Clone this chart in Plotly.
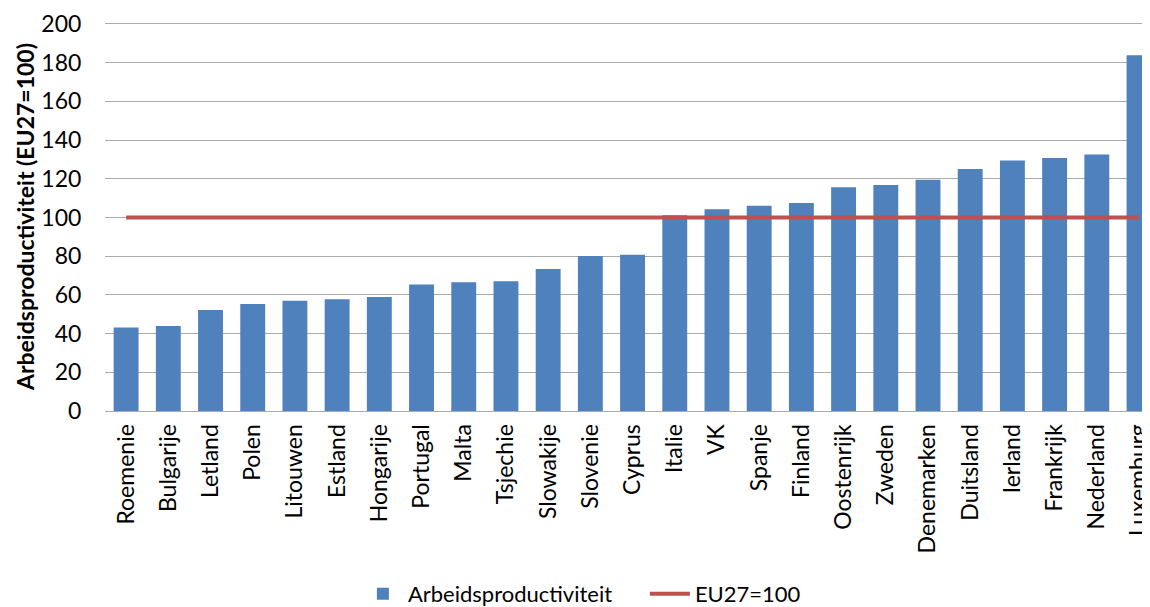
import plotly.graph_objects as go

countries = ["Roemenie", "Bulgarije", "Letland", "Polen", "Litouwen", "Estland", "Hongarije",
             "Portugal", "Malta", "Tsjechie", "Slowakije", "Slovenie", "Cyprus", "Italie", "VK",
             "Spanje", "Finland", "Oostenrijk", "Zweden", "Denemarken", "Duitsland", "Ierland",
             "Frankrijk", "Nederland", "Luxemburg"]
productivity = [43.2, 43.9, 52.2, 55.3, 57.0, 57.7, 58.9, 65.3, 66.5, 67.0, 73.4, 80.1, 80.8,
                101.1, 104.2, 106.1, 107.5, 115.6, 116.8, 119.5, 125.1, 129.5, 130.7, 132.6, 183.8]
eu_level = [100] * len(countries)
y_ticks = [0, 20, 40, 60, 80, 100, 120, 140, 160, 180, 200]

FONT = "Lato"

fig = go.Figure()
fig.add_trace(go.Bar(
    x=countries, y=productivity, name="Arbeidsproductiviteit",
    marker=dict(color="#4F81BD", line=dict(width=0)),
))
fig.add_trace(go.Scatter(
    x=countries, y=eu_level, name="EU27=100", mode="lines",
    line=dict(color="#C0504D", width=4),
))

fig.update_layout(
    width=1142, height=599,
    margin=dict(l=97, r=0, t=14, b=196, autoexpand=False),
    paper_bgcolor="white", plot_bgcolor="white",
    bargap=0.41,
    font=dict(family=FONT, size=22, color="#000000"),
    showlegend=True,
    legend=dict(orientation="h", x=0.242, xanchor="left", y=-0.47, yanchor="middle",
                font=dict(family=FONT, size=22), itemwidth=40, traceorder="normal",
                entrywidth=232, entrywidthmode="pixels"),
)
fig.update_xaxes(
    type="category", range=[-0.5, 24.26], tickangle=-90,
    tickfont=dict(family=FONT, size=23),
    showgrid=False, showline=False, ticks="outside", ticklen=0,
    ticklabelstandoff=3, automargin=False, ticklabeloverflow="allow",
)
fig.update_yaxes(
    range=[0, 201], tickvals=y_ticks,
    tickfont=dict(family=FONT, size=23),
    showgrid=True, gridcolor="#ABABAB", gridwidth=1,
    zeroline=True, zerolinecolor="#ABABAB", zerolinewidth=1,
    showline=False, ticks="outside", ticklen=0, ticklabelstandoff=18,
    title=dict(text="<b>Arbeidsproductiviteit (EU27=100)</b>", font=dict(family=FONT, size=23), standoff=0),
    automargin=False,
)

fig.write_html("out.html")
